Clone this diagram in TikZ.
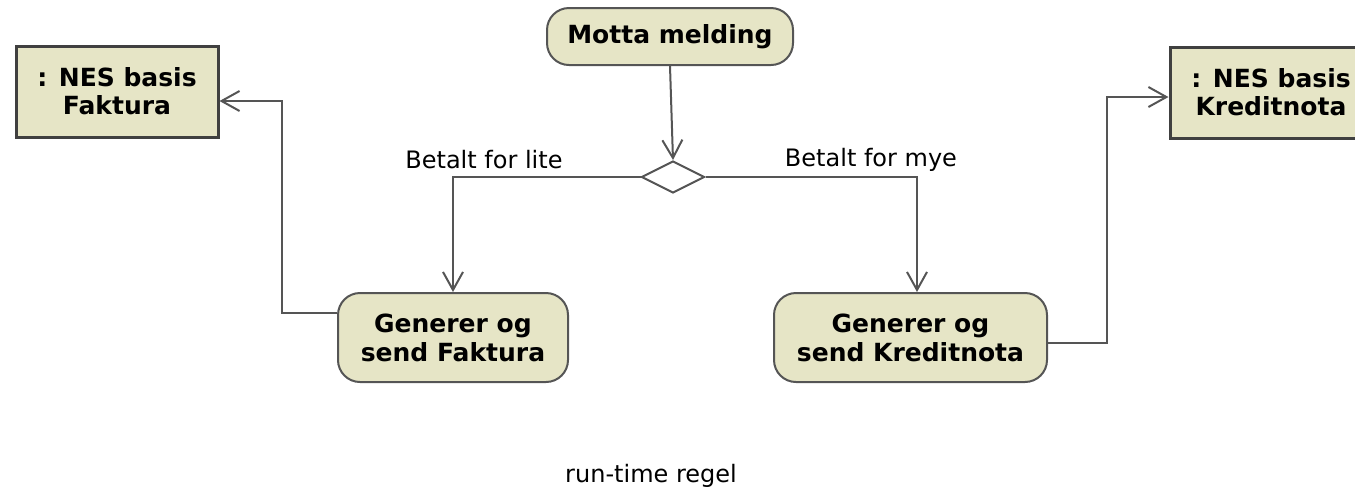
\documentclass[tikz,border=0pt]{standalone}
\usepackage{fontspec}
\setmainfont{DejaVu Sans}
\usetikzlibrary{positioning, arrows.meta, shapes.geometric}
\definecolor{khaki}{RGB}{230,229,198}
\definecolor{edge}{RGB}{85,85,85}

\begin{document}
\begin{tikzpicture}[x=0.5pt,y=-0.5pt,
  act/.style={draw=edge,line width=1pt,fill=khaki,rounded corners=11pt,align=center,inner sep=0pt,
    font=\fontsize{12.5}{14.5}\selectfont\bfseries},
  obj/.style={draw=black!75,line width=1.5pt,fill=khaki,align=center,inner sep=0pt,
    font=\fontsize{12.5}{14}\selectfont\bfseries},
  decision/.style={diamond,draw=edge,line width=1pt,fill=white,inner sep=0pt,minimum width=31.5pt,minimum height=16pt},
  guard/.style={font=\fontsize{12}{14}\selectfont},
  flow/.style={draw=edge,line width=1pt,-{Straight Barb[length=9pt,width=10pt]}}]
\useasboundingbox (0,0) rectangle (1355,495);
\clip (0,0) rectangle (1355,495);

\node[act,minimum width=123pt,minimum height=28.5pt] (motta) at (670,36.5) {Motta melding};
\node[decision] (dec) at (673,177) {};
\node[act,minimum width=115pt,minimum height=44.5pt] (genF) at (453,337.5) {Generer og\\send Faktura};
\node[act,minimum width=136.5pt,minimum height=44.5pt] (genK) at (910.5,337.5) {Generer og\\send Kreditnota};
\node[obj,minimum width=101pt,minimum height=45.5pt] (objF) at (117,91.5) {: NES basis\\Faktura};
\node[obj,minimum width=101pt,minimum height=45.5pt] (objK) at (1271,92.5) {: NES basis\\Kreditnota};

\draw[flow] (motta.south) -- (dec.north);
\draw[flow] (dec.west) -| (genF.north);
\draw[flow] (dec.east) -| ([xshift=3.25pt]genK.north);
\draw[flow] ([yshift=12.25pt]genF.west) -- ++(-27.5pt,0) |- ([yshift=-4.75pt]objF.east);
\draw[flow] ([yshift=-2.75pt]genK.east) -- ++(29.5pt,0) |- ([yshift=-2.25pt]objK.west);

\node[guard] (lite) at (484,160) {Betalt for lite};
\node[guard] (mye) at (871,160) {Betalt for mye};
\node[guard] (regel) at (651,476) {run-time regel};
\end{tikzpicture}
\end{document}
